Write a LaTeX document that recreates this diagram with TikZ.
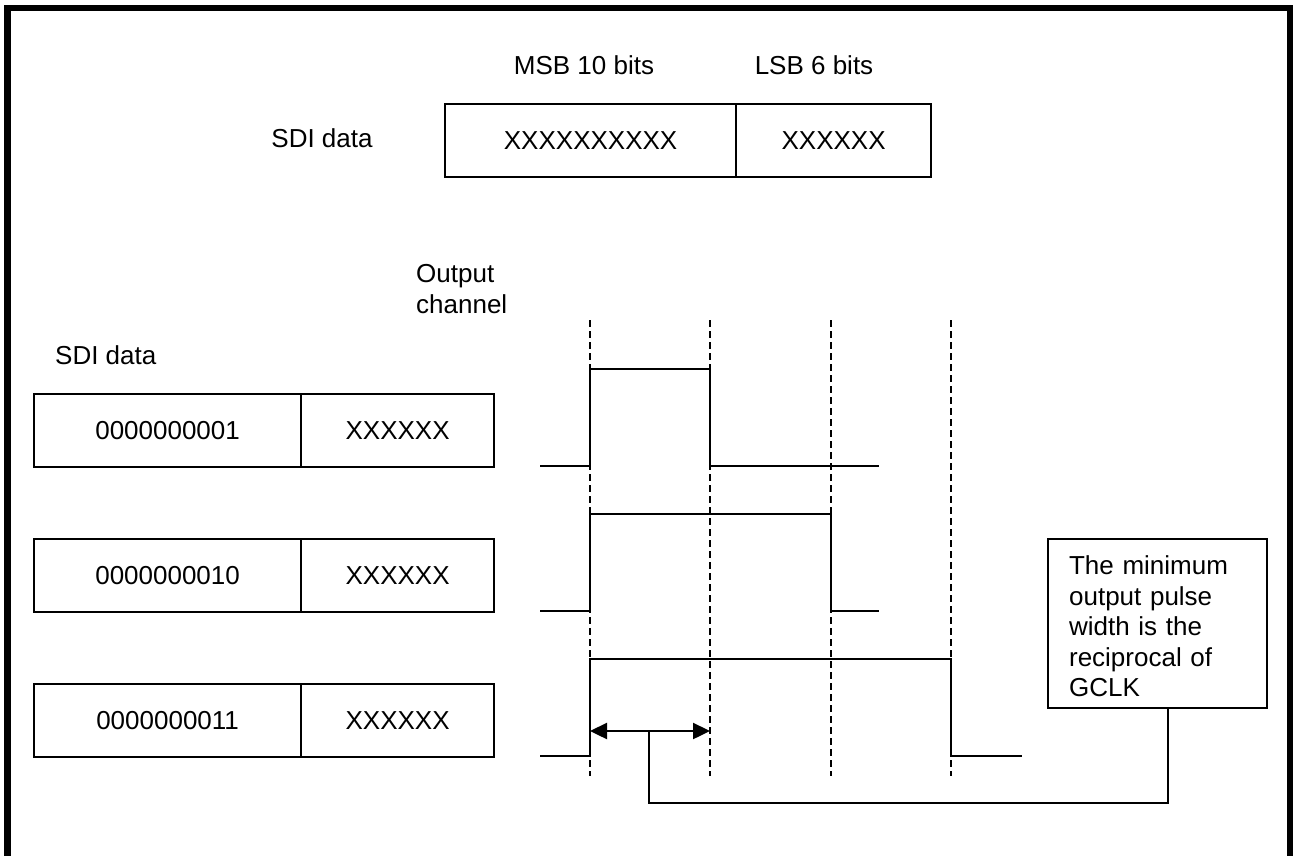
\documentclass[tikz,border=0pt]{standalone}
\usepackage{fontspec}
\setmainfont{Liberation Sans}
\usetikzlibrary{arrows.meta}
\begin{document}
\begin{tikzpicture}[x=1pt,y=-1pt,
  every node/.style={font=\fontsize{26}{30.5}\selectfont},
  cell/.style={draw, line width=2.2pt, minimum height=73pt, inner sep=0pt, anchor=north west},
  lbl/.style={inner sep=0pt},
  wave/.style={line width=2.4pt},
  gridline/.style={line width=2.4pt, dash pattern=on 7pt off 4pt},
  conn/.style={line width=2.2pt},
  widtharrow/.style={line width=2.4pt, {Triangle[length=17pt,width=16pt]}-{Triangle[length=17pt,width=16pt]}}]
\useasboundingbox (0,0) rectangle (1293,855);
\clip (0,0) rectangle (1293,855);
\draw[line width=6.5pt] (7.5,900) -- (7.5,8) -- (1290.5,8) -- (1290.5,900);

% top format
\node[lbl, anchor=base] (msb) at (584,74) {MSB 10 bits};
\node[lbl, anchor=base] (lsb) at (814,74) {LSB 6 bits};
\node[lbl, anchor=base] (sditop) at (322,147) {SDI data};
\node[cell, minimum width=291pt] (tmsb) at (444,103) {XXXXXXXXXX};
\node[cell, minimum width=195pt] (tlsb) at (735,103) {XXXXXX};

% labels
\node[lbl, anchor=north west, align=left] (outch) at (416,264.5) {Output\\channel};
\node[lbl, anchor=base west] (sdilow) at (55,364) {SDI data};

% data rows
\node[cell, minimum width=267pt] (m1) at (33,393) {0000000001};
\node[cell, minimum width=193pt] (l1) at (300,393) {XXXXXX};
\node[cell, minimum width=267pt] (m2) at (33,538) {0000000010};
\node[cell, minimum width=193pt] (l2) at (300,538) {XXXXXX};
\node[cell, minimum width=267pt] (m3) at (33,683) {0000000011};
\node[cell, minimum width=193pt] (l3) at (300,683) {XXXXXX};

% clock grid
\foreach \gx in {590,710,831,951}
  \draw[gridline] (\gx,320) -- (\gx,776);

% waveforms
\draw[wave] (540,466) -- (590,466) -- (590,369) -- (710,369) -- (710,466) -- (879,466);
\draw[wave] (540,611) -- (590,611) -- (590,514) -- (831,514) -- (831,611) -- (879,611);
\draw[wave] (540,756) -- (590,756) -- (590,659) -- (951,659) -- (951,756) -- (1022,756);

% callout
\node[draw, line width=2.2pt, anchor=north west, minimum width=219pt, minimum height=169pt,
      text width=177pt, inner xsep=21pt, inner ysep=0pt, align=left, text height=25pt]
      (callout) at (1047,538) {The minimum\\output pulse\\width is the\\reciprocal of\\GCLK};

% width arrow and leader
\coordinate (aL) at (590,731);
\coordinate (aR) at (710,731);
\coordinate (am) at (649,731);
\coordinate (cb) at (1168,803);
\draw[widtharrow] (aL) -- (aR);
\draw[conn] (am) |- (cb) -- (cb |- callout.south);
\end{tikzpicture}
\end{document}
